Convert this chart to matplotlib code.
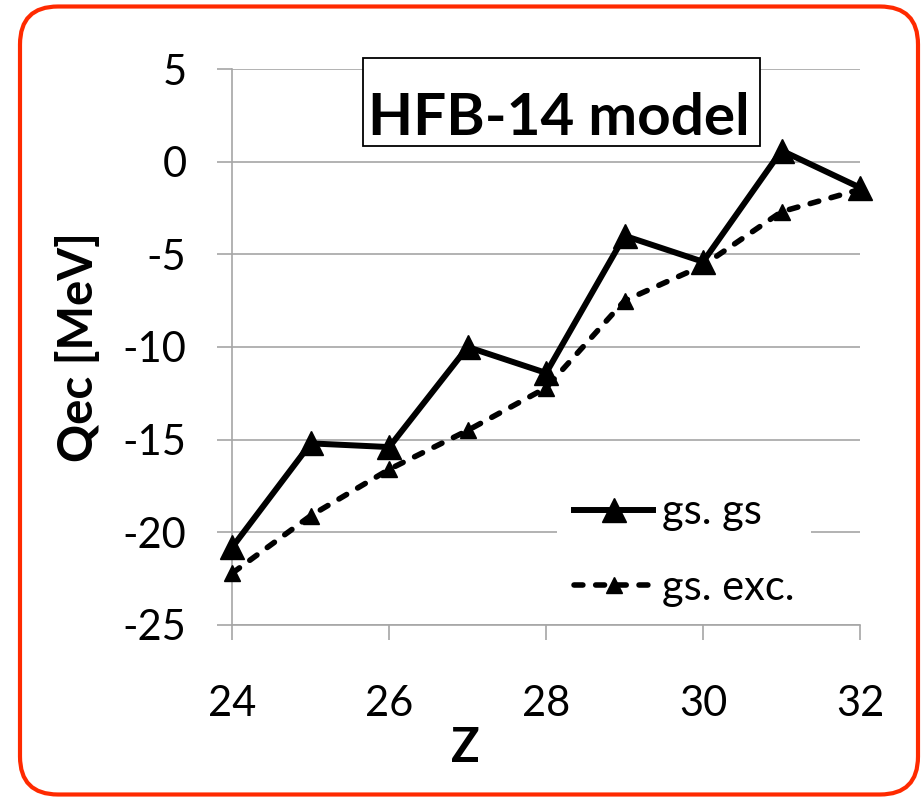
import matplotlib
matplotlib.use('Agg')
import matplotlib.pyplot as plt
from matplotlib.patches import FancyBboxPatch, Rectangle

# ---- data ----
Z = [24, 25, 26, 27, 28, 29, 30, 31, 32]
gs_gs = [-20.8, -15.2, -15.4, -10.0, -11.4, -4.0, -5.4, 0.6, -1.4]
gs_exc = [-22.2, -19.1, -16.6, -14.5, -12.2, -7.5, -5.6, -2.7, -1.5]
x_ticks = [24, 26, 28, 30, 32]
y_ticks = [-25, -20, -15, -10, -5, 0, 5]
series_labels = ["gs. gs", "gs. exc."]
title_text = "HFB-14 model"

plt.rcParams['font.family'] = ['Lato', 'DejaVu Sans']

W, H, DPI = 921, 797, 100
fig = plt.figure(figsize=(W / DPI, H / DPI), dpi=DPI)
fig.patch.set_facecolor('white')

# red rounded frame
frame = FancyBboxPatch((0.20, 0.025), 8.98, 7.88,
                       boxstyle="round,pad=0,rounding_size=0.38",
                       transform=fig.dpi_scale_trans, fill=False,
                       edgecolor='#ff2a00', linewidth=3.0)
fig.patches.append(frame)

AX_L, AX_R, AX_T, AX_B = 232.3, 860.0, 69.0, 625.0
ax = fig.add_axes([AX_L / W, 1 - AX_B / H, (AX_R - AX_L) / W, (AX_B - AX_T) / H])
grid_c = '#a6a6a6'

def ax_x(px):
    return (px - AX_L) / (AX_R - AX_L)

def ax_y(py):
    return (AX_B - py) / (AX_B - AX_T)

ax.plot(Z, gs_gs, color='black', lw=4.3, marker='^', markersize=17,
        label=series_labels[0], clip_on=False, zorder=4, solid_joinstyle='miter')
ax.plot(Z, gs_exc, color='black', lw=4.0, marker='^', markersize=11,
        dashes=(1.6, 2.3), dash_capstyle='round',
        label=series_labels[1], clip_on=False, zorder=3)

ax.set_xlim(24, 32)
ax.set_ylim(-25, 5)
ax.set_xticks(x_ticks)
ax.set_yticks(y_ticks)
ax.set_yticklabels([str(v) for v in y_ticks])
ax.yaxis.grid(True, color=grid_c, lw=1.2)
ax.set_axisbelow(True)
for s in ['top', 'right']:
    ax.spines[s].set_visible(False)
for s in ['left', 'bottom']:
    ax.spines[s].set_color(grid_c)
    ax.spines[s].set_linewidth(1.2)
ax.tick_params(axis='both', direction='out', length=11, width=1.2,
               color=grid_c, labelsize=30, labelcolor='black')
ax.tick_params(axis='x', pad=32)
ax.tick_params(axis='y', pad=22)

ax.set_xlabel("Z", fontsize=34, fontweight='bold')
ax.xaxis.set_label_coords(ax_x(465), ax_y(748))
ax.xaxis.label.set_va('center')
ax.set_ylabel("Qec [MeV]", fontsize=34, fontweight='bold')
ax.yaxis.set_label_coords(ax_x(78), 0.5)
ax.yaxis.label.set_va('center')

# title box
ax.add_patch(Rectangle((ax_x(363), ax_y(146)), ax_x(760) - ax_x(363), ax_y(58) - ax_y(146),
                       transform=ax.transAxes, facecolor='white', edgecolor='black',
                       lw=1.3, zorder=6, clip_on=False))
ax.text(ax_x(559), ax_y(135), title_text, transform=ax.transAxes,
        ha='center', va='baseline', fontsize=42, fontweight='bold', zorder=7)

leg = ax.legend(loc='center', bbox_to_anchor=(ax_x(684), ax_y(550)),
                frameon=True, facecolor='white', edgecolor='none', framealpha=1,
                fontsize=30, handlelength=1.9, handletextpad=0.2,
                labelspacing=0.9, numpoints=1, borderpad=0.4)
leg.set_zorder(5)

fig.savefig('out.png', dpi=DPI, facecolor='white')
